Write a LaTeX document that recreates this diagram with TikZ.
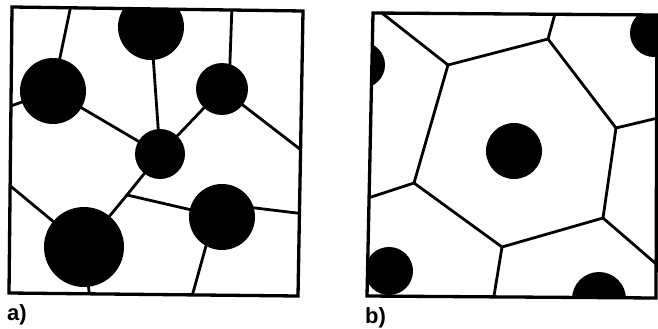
\documentclass[tikz,border=0pt]{standalone}
\usepackage{fontspec}
\setmainfont{Liberation Sans}
\tikzset{
  frame/.style={line width=3.3pt, line join=miter},
  boundary/.style={line width=2.8pt, line cap=round},
  grain/.style={circle, fill=black, draw=none, inner sep=0pt},
  lbl/.style={font=\bfseries\fontsize{22}{22}\selectfont, anchor=base west, inner sep=0pt}
}
\begin{document}
\begin{tikzpicture}[x=1pt,y=-1pt]
\useasboundingbox (0,0) rectangle (658,329);
% ---------------- panel a ----------------
\coordinate (aTL) at (12,7);
\coordinate (aTR) at (303,11);
\coordinate (aBR) at (298,296);
\coordinate (aBL) at (9,293);
\begin{scope}
  \clip (aTL) -- (aTR) -- (aBR) -- (aBL) -- cycle;
  \node[grain, minimum size=66pt] (a1) at (151,27) {};
  \node[grain, minimum size=66pt] (a2) at (53,91) {};
  \node[grain, minimum size=52pt] (a3) at (222,89) {};
  \node[grain, minimum size=50pt] (a4) at (160,154) {};
  \node[grain, minimum size=80pt] (a5) at (84,247) {};
  \node[grain, minimum size=66pt] (a6) at (222,217) {};
  \coordinate (aj) at (127,195);
  \coordinate (at1) at (71,5);
  \coordinate (at2) at (232,5);
  \coordinate (al1) at (8,107);
  \coordinate (al2) at (8,184);
  \coordinate (ar1) at (305,153);
  \coordinate (ar2) at (305,214);
  \coordinate (ab1) at (90,300);
  \coordinate (ab2) at (191,300);
  \coordinate (a3e) at (229,89);
  \coordinate (a6e) at (222,204);
  \coordinate (a6f) at (214,217);
  \draw[boundary] (at1) -- (a2.center);
  \draw[boundary] (al1) -- (a2.center);
  \draw[boundary] (a2.center) -- (a4.center);
  \draw[boundary] (a1.center) -- (a4.center);
  \draw[boundary] (a3.center) -- (a4.center);
  \draw[boundary] (at2) -- (a3e);
  \draw[boundary] (a3.center) -- (ar1);
  \draw[boundary] (a4.center) -- (aj);
  \draw[boundary] (aj) -- (a5.center);
  \draw[boundary] (aj) -- (a6.center);
  \draw[boundary] (al2) -- (a5.center);
  \draw[boundary] (a5.center) -- (ab1);
  \draw[boundary] (ar2) -- (a6e);
  \draw[boundary] (ab2) -- (a6f);
\end{scope}
\draw[frame] (aTL) -- (aTR) -- (aBR) -- (aBL) -- cycle;
\node[lbl] (la) at (7,320) {a)};
% ---------------- panel b ----------------
\coordinate (bTL) at (373,13);
\coordinate (bTR) at (657,15);
\coordinate (bBR) at (656,298);
\coordinate (bBL) at (367,296);
\begin{scope}
  \clip (bTL) -- (bTR) -- (bBR) -- (bBL) -- cycle;
  \node[grain, minimum size=56pt] (b0) at (514,151) {};
  \node[grain, minimum size=48pt] (b1) at (654,33) {};
  \node[grain, minimum size=46pt] (b2) at (362,65) {};
  \node[grain, minimum size=48pt] (b3) at (389,271) {};
  \node[grain, minimum size=54pt] (b4) at (599,299) {};
  \coordinate (v1) at (448,65);
  \coordinate (v2) at (548,39);
  \coordinate (v3) at (616,128);
  \coordinate (v4) at (603,218);
  \coordinate (v5) at (502,247);
  \coordinate (v6) at (414,183);
  \coordinate (e1) at (378,10);
  \coordinate (e2) at (556,10);
  \coordinate (e3) at (662,117);
  \coordinate (e4) at (662,269);
  \coordinate (e5) at (493,302);
  \coordinate (e6) at (362,200);
  \draw[boundary, line join=round] (v1) -- (v2) -- (v3) -- (v4) -- (v5) -- (v6) -- cycle;
  \draw[boundary] (v1) -- (e1);
  \draw[boundary] (v2) -- (e2);
  \draw[boundary] (v3) -- (e3);
  \draw[boundary] (v4) -- (e4);
  \draw[boundary] (v5) -- (e5);
  \draw[boundary] (v6) -- (e6);
\end{scope}
\draw[frame] (bTL) -- (bTR) -- (bBR) -- (bBL) -- cycle;
\node[lbl] (lb) at (365,323) {b)};
\end{tikzpicture}
\end{document}
